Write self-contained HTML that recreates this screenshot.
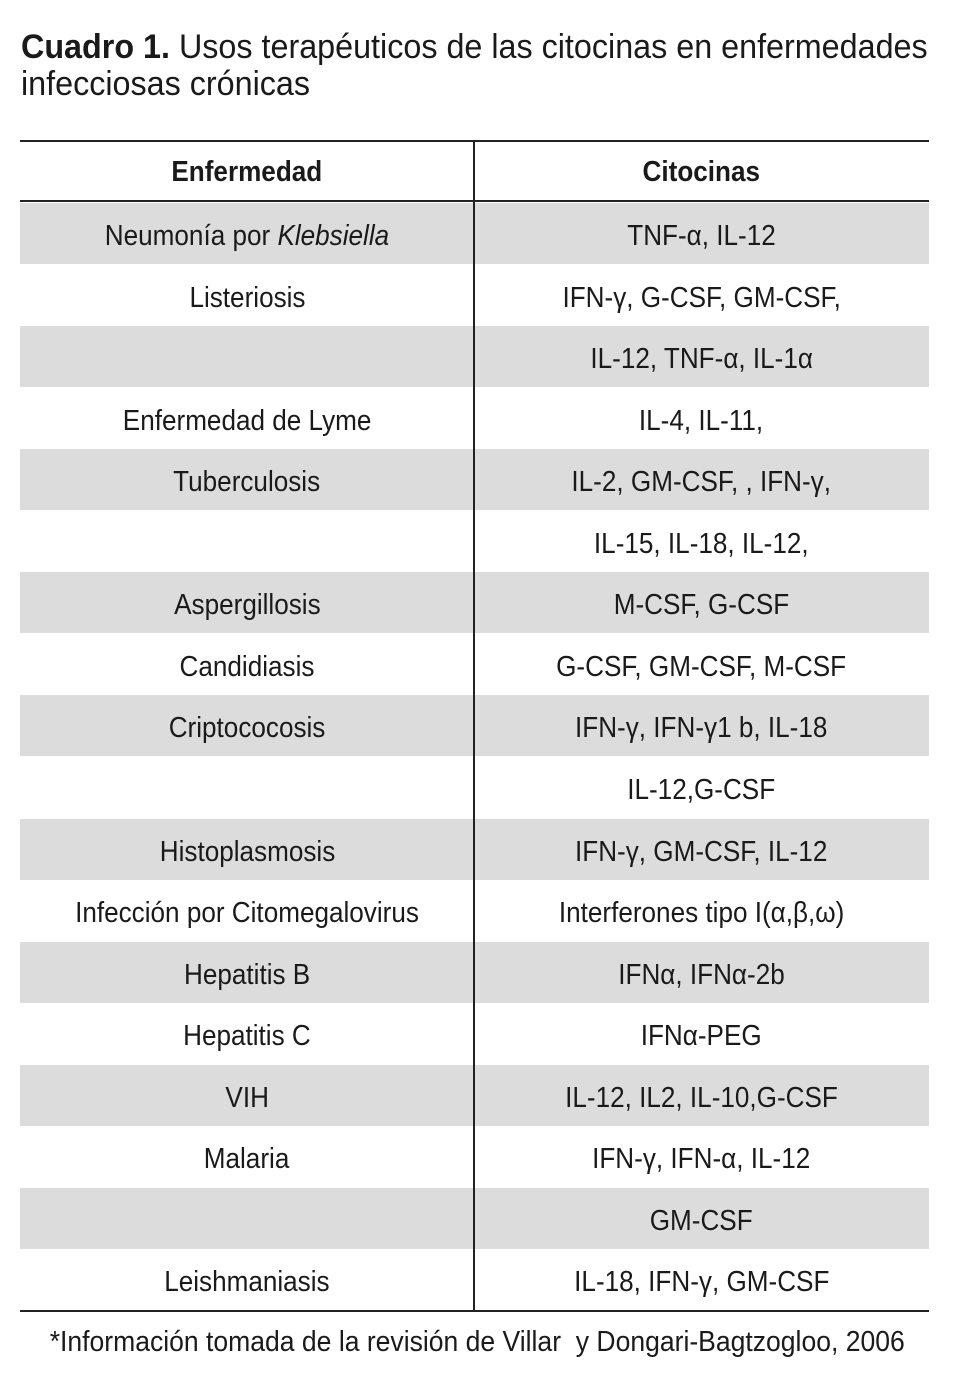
<!DOCTYPE html>
<html><head><meta charset="utf-8"><style>
body{margin:0;width:954px;height:1400px;background:#fff;position:relative;overflow:hidden;font-family:"Liberation Sans",sans-serif;color:#1a1a1a}
.abs{position:absolute}
.t{position:absolute;white-space:nowrap;font-size:29px;line-height:62px;height:62px;text-align:center}
.t span{display:inline-block;transform:scaleX(0.9);transform-origin:center}
.row{position:absolute;left:20px;width:909px;height:61px}
.g{background:#dcdcdd}
.title{position:absolute;left:21px;font-size:34px;white-space:nowrap;transform:scaleX(0.95);transform-origin:left}
</style></head><body>
<div class="title" style="top:28px"><b>Cuadro 1.</b> Usos terapéuticos de las citocinas en enfermedades</div>
<div class="title" style="top:65px">infecciosas crónicas</div>
<div class="abs" style="left:20px;top:140px;width:909px;height:2px;background:#222"></div>
<div class="abs" style="left:20px;top:200px;width:909px;height:2px;background:#222"></div>
<div class="t" style="left:20px;width:454px;top:141px;font-weight:bold"><span>Enfermedad</span></div>
<div class="t" style="left:474px;width:455px;top:141px;font-weight:bold"><span>Citocinas</span></div>
<div id="rows"></div>
<div class="abs" style="left:473px;top:141px;width:2px;height:1170px;background:#222"></div>
<div class="abs" style="left:20px;top:1310px;width:909px;height:2px;background:#222"></div>
<div class="t" style="left:0;width:954px;top:1311px;font-size:29px"><span style="transform:scaleX(0.915)">*Información tomada de la revisión de Villar&nbsp; y Dongari-Bagtzogloo, 2006</span></div>
<script>
const diseases=["Neumonía por <i>Klebsiella</i>","Listeriosis","","Enfermedad de Lyme","Tuberculosis","","Aspergillosis","Candidiasis","Criptococosis","","Histoplasmosis","Infección por Citomegalovirus","Hepatitis B","Hepatitis C","VIH","Malaria","","Leishmaniasis"];
const cytokines=["TNF-α, IL-12","IFN-γ, G-CSF, GM-CSF,","IL-12, TNF-α, IL-1α","IL-4, IL-11,","IL-2, GM-CSF, , IFN-γ,","IL-15, IL-18, IL-12,","M-CSF, G-CSF","G-CSF, GM-CSF, M-CSF","IFN-γ, IFN-γ1 b, IL-18","IL-12,G-CSF","IFN-γ, GM-CSF, IL-12","Interferones tipo I(α,β,ω)","IFNα, IFNα-2b","IFNα-PEG","IL-12, IL2, IL-10,G-CSF","IFN-γ, IFN-α, IL-12","GM-CSF","IL-18, IFN-γ, GM-CSF"];
const c=document.getElementById('rows');
diseases.forEach((d,i)=>{
  const top=203+i*61.55;
  const r=document.createElement('div');
  r.className='row'+(i%2===0?' g':'');
  r.style.top=top+'px';
  
  
  c.appendChild(r);
  const a=document.createElement('div');
  a.className='t';a.style.left='20px';a.style.width='454px';a.style.top=(top+2)+'px';
  a.innerHTML='<span>'+d+'</span>';
  
  
  c.appendChild(a);
  const b=document.createElement('div');
  b.className='t';b.style.left='474px';b.style.width='455px';b.style.top=(top+2)+'px';
  b.innerHTML='<span>'+cytokines[i]+'</span>';
  
  
  c.appendChild(b);
});
</script>
</body></html>
